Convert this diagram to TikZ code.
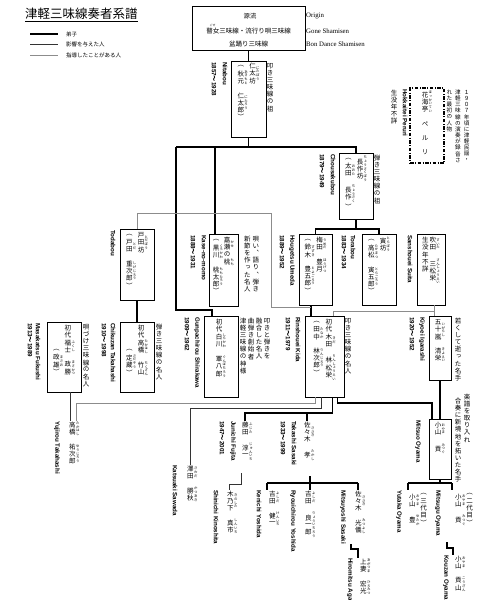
\documentclass[tikz,border=0pt]{standalone}
\usepackage{fontspec}
\setmainfont{Liberation Serif}
\newfontfamily\jpv[RawFeature=+vert]{Noto Sans CJK JP}
\newfontfamily\jph{Noto Sans CJK JP}
\newfontfamily\lsans{Liberation Sans}
\newcommand\jps{\fontsize{6.5}{6.5}\selectfont}
\newcommand\rubyf{\fontsize{3.4}{3.4}\selectfont}
\newcommand\romf{\lsans\bfseries\fontsize{6.2}{6.2}\selectfont}
\def\vtend{VTEND}
\newcommand\vtch[1]{\hbox to 1em{\hss\vbox to 1.1em{\vss\hbox{#1}\vss}\hss}}
\def\vtloop#1{\ifx#1\vtend\else\vtch{#1}\expandafter\vtloop\fi}
\newcommand\vt[1]{\vtloop#1\vtend}
\newcommand\col[1]{\vtop{\offinterlineskip\kern0pt #1}}
\newcommand\rb[2]{\hbox{$\vcenter{\offinterlineskip\vt{#1}}\kern0.3pt\vcenter{\offinterlineskip\rubyf\vt{#2}}$}}
\newcommand\tl{{\jph ～}}
\tikzset{
  bx/.style={draw, line width=0.8pt, inner sep=0pt},
  perubox/.style={draw, line width=1.1pt, inner sep=0pt, dash pattern=on 3.5pt off 1.5pt on 1pt off 1.5pt},
  lk/.style={line width=1.7pt},
  lm/.style={line width=0.9pt, black!80},
  lt/.style={line width=0.7pt, black!45},
  rom/.style={rotate=-90, anchor=west, inner sep=0pt, font=\romf},
  jt/.style={anchor=north, inner sep=0pt, font=\jpv\jps},
  jn/.style={anchor=north west, inner sep=0pt, font=\jpv\jps},
  lg/.style={anchor=west, inner sep=0pt, font=\jph\fontsize{5.5}{5.5}\selectfont},
  en/.style={anchor=west, inner sep=0pt, font=\fontsize{6.8}{6.8}\selectfont},
}
\begin{document}
\begin{tikzpicture}[x=1pt,y=-1pt]
\useasboundingbox (0,0) rectangle (480,600);
% title and legend
\node[anchor=west, inner sep=0pt, font=\jph\fontsize{12.5}{12.5}\selectfont] (title) at (25,14) {津軽三味線奏者系譜};
\draw[line width=0.6pt] ([yshift=-1pt]title.south west) -- ([yshift=-1pt]title.south east);
\coordinate (l1a) at (30,34); \coordinate (l1b) at (58,34);
\coordinate (l2a) at (30,44.5); \coordinate (l2b) at (58,44.5);
\coordinate (l3a) at (30,55); \coordinate (l3b) at (58,55);
\draw[lk] (l1a) -- (l1b);
\draw[lm] (l2a) -- (l2b);
\draw[lt] (l3a) -- (l3b);
\node[lg] (lg1) at (66,34) {弟子};
\node[lg] (lg2) at (66,44.5) {影響を与えた人};
\node[lg] (lg3) at (66,55) {指導したことがある人};
% top box
\node[bx, line width=1pt, minimum width=113pt, minimum height=44pt] (top) at (248.5,28) {};
\node[inner sep=0pt, font=\jph\fontsize{6.3}{6.3}\selectfont] (topA) at (250,16) {源流};
\node[inner sep=0pt, font=\jph\fontsize{6.5}{6.5}\selectfont] (topB) at (248.5,31) {瞽女三味線・流行り唄三味線};
\node[inner sep=0pt, font=\jph\fontsize{2.8}{2.8}\selectfont] (topR) at (212.5,25.5) {ごぜ};
\node[inner sep=0pt, font=\jph\fontsize{6.5}{6.5}\selectfont] (topC) at (248.5,44) {盆踊り三味線};
\node[en] (en1) at (306,16) {Origin};
\node[en] (en2) at (306,31) {Gone Shamisen};
\node[en] (en3) at (306,44) {Bon Dance Shamisen};
% Nitabou
\node[bx, minimum width=35pt, minimum height=76pt] (nita) at (248.5,99) {};
\node[jt] (nitaT) at ([yshift=-2pt]nita.north) {\col{\vt{︵}\rb{秋元}{あきもと}\vt{　}\rb{仁太郎}{にたろう}\vt{︶}}\kern1.5pt\col{\rb{仁太坊}{にたぼう}}};
\node[jt] (nitaD) at (270,62) {\col{\vt{叩き三味線の祖}}};
\node[rom] (nitaR) at (225,62) {Nitabou};
\node[rom] (nitaY) at (214,62) {1857\tl 1928};
% Hokkaitei Peruri
\node[perubox, minimum width=34pt, minimum height=75pt] (peru) at (427,125.5) {};
\node[jt] (peruT) at ([yshift=-3pt]peru.north) {\col{\rb{花海亭}{ほっかいてい}\vt{　ペ　ル　リ}}};
\node[rom] (peruR) at (405,89) {Hokkaitei Peruri};
\node[jt] (peruY) at (394,89) {\col{\vt{生没年不詳}}};
\node[jt, font=\jpv\fontsize{5.6}{5.6}\selectfont] (peruD) at (458,89) {\col{\vt{れた最初の人物}}\kern3pt\col{\vt{津軽三味線の演奏が録音さ}}\kern3pt\col{\vt{１９０７年頃に津軽民謡・}}};
% Chousakubou
\node[bx, minimum width=34pt, minimum height=66pt] (chou) at (356,186) {};
\node[jt] (chouT) at ([yshift=-3pt]chou.north) {\col{\vt{︵}\rb{太田}{おおた}\vt{　}\rb{長作}{ちょうさく}\vt{︶}}\kern1.5pt\col{\rb{長作坊}{ちょうさくぼう}}};
\node[jt] (chouD) at (377,154) {\col{\vt{弾き三味線の祖}}};
\node[rom] (chouR) at (333,154) {Chousakubou};
\node[rom] (chouY) at (322,154) {1879\tl 1949};
% Kase-no-momo
\node[bx, minimum width=29pt, minimum height=72pt] (kaze) at (223.5,270) {};
\node[jt] (kazeT) at ([yshift=-3pt]kaze.north) {\col{\vt{︵}\rb{黒川}{くろかわ}\vt{　}\rb{桃太郎}{ももたろう}\vt{︶}}\kern0.8pt\col{\rb{嘉瀬}{かせ}\vt{の}\rb{桃}{もも}}};
\node[jt] (kazeD) at (251.5,235) {\col{\vt{新節を作った名人}}\kern2pt\col{\vt{唄い︑語り︑弾き}}};
\node[rom] (kazeR) at (204,235) {Kase-no-momo};
\node[rom] (kazeY) at (193,235) {1888\tl 1931};
% Todabou
\node[bx, minimum width=34pt, minimum height=71pt] (toda) at (137,264.5) {};
\node[jt] (todaT) at ([yshift=-3pt]toda.north) {\col{\vt{︵}\rb{戸田}{とだ}\vt{　}\rb{重次郎}{しげじろう}\vt{︶}}\kern1.5pt\col{\rb{戸田坊}{とだぼう}}};
\node[rom] (todaR) at (113,230) {Todabou};
% Umeda
\node[bx, minimum width=33pt, minimum height=71pt] (ume) at (315.5,269.5) {};
\node[jt] (umeT) at ([yshift=-3pt]ume.north) {\col{\vt{︵}\rb{鈴木}{すずき}\vt{　}\rb{豊五郎}{とよごろう}\vt{︶}}\kern1.5pt\col{\rb{梅田}{うめだ}\vt{　}\rb{豊月}{ほうげつ}}};
\node[rom] (umeR) at (292,235) {Hougetsu Umeda};
\node[rom] (umeY) at (282,235) {1889\tl 1952};
% Torabou
\node[bx, minimum width=34pt, minimum height=71pt] (tora) at (379,269.5) {};
\node[jt] (toraT) at ([yshift=-3pt]tora.north) {\col{\vt{︵}\rb{高松}{たかまつ}\vt{　}\rb{寅五郎}{とらごろう}\vt{︶}}\kern1.5pt\col{\rb{寅坊}{とらぼう}}};
\node[rom] (toraR) at (353,235) {Torabou};
\node[rom] (toraY) at (344,235) {1883\tl 1934};
% Suita
\node[bx, minimum width=28pt, minimum height=71pt] (sui) at (431,269.5) {};
\node[jt] (suiT) at ([yshift=-3pt]sui.north) {\col{\vt{生没年不詳}}\kern1pt\col{\rb{吹田}{すいた}\vt{　}\rb{三松栄}{さんしょうえい}}};
\node[rom] (suiR) at (410,235) {Sanshouei Suita};
% Shirakawa
\node[bx, minimum width=34pt, minimum height=81pt] (shira) at (221,356.5) {};
\node[jt] (shiraT) at ([yshift=-3pt]shira.north) {\col{\vt{初代}\rb{白川}{しらかわ}\vt{　}\rb{軍八郎}{ぐんぱちろう}}};
\node[jt] (shiraD) at (255,317) {\col{\vt{津軽三味線の神様}}\kern1.5pt\col{\vt{曲弾き創始者}}\kern1.5pt\col{\vt{融合した名人}}\kern1.5pt\col{\vt{叩きと弾きを}}};
\node[rom] (shiraR) at (197,317) {Gunpachirou Shirakawa};
\node[rom] (shiraY) at (187,317) {1909\tl 1962};
% Chikuzan
\node[bx, minimum width=34pt, minimum height=70pt] (chik) at (137,357) {};
\node[jt] (chikT) at ([yshift=-3pt]chik.north) {\col{\kern22pt\vt{︵}\rb{定蔵}{さだぞう}\vt{︶}}\kern1.5pt\col{\vt{初代}\rb{高橋}{たかはし}\vt{　}\rb{竹山}{ちくざん}}};
\node[jt] (chikD) at (159,323) {\col{\vt{弾き三味線の名人}}};
\node[rom] (chikR) at (113,323) {Chikuzan Takahashi};
\node[rom] (chikY) at (104,323) {1910\tl 1998};
% Fukushi
\node[bx, minimum width=34pt, minimum height=70pt] (fuku) at (64,357) {};
\node[jt] (fukuT) at ([yshift=-3pt]fuku.north) {\col{\kern22pt\vt{︵}\rb{政雄}{まさお}\vt{︶}}\kern1.5pt\col{\vt{初代}\rb{福士}{ふくし}\vt{　}\rb{政勝}{まさかつ}}};
\node[jt] (fukuD) at (86,323) {\col{\vt{唄づけ三味線の名人}}};
\node[rom] (fukuR) at (38,323) {Masakatsu Fukushi};
\node[rom] (fukuY) at (30,323) {1913\tl 1989};
% Kida
\node[bx, minimum width=39pt, minimum height=81pt] (kida) at (324.5,356.5) {};
\node[jt] (kidaT) at ([yshift=-3pt]kida.north) {\col{\vt{︵}\rb{田中}{たなか}\vt{　}\rb{林次郎}{りんじろう}\vt{︶}}\kern2pt\col{\vt{初代}\rb{木田}{きだ}\vt{　}\rb{林松栄}{りんしょうえい}}};
\node[jt] (kidaD) at (348,317) {\col{\vt{叩き三味線の名人}}};
\node[rom] (kidaR) at (298,317) {Rinshouei Kida};
\node[rom] (kidaY) at (288,317) {1911\tl 1979};
% Igarashi
\node[bx, minimum width=22pt, minimum height=64pt] (iga) at (440,348) {};
\node[jt] (igaT) at ([yshift=-3pt]iga.north) {\col{\rb{五十嵐}{いがらし}\vt{　}\rb{清栄}{きよえい}}};
\node[jt] (igaD) at (458,317) {\col{\vt{若くして逝った名手}}};
\node[rom] (igaR) at (422,317) {Kiyoei Igarashi};
\node[rom] (igaY) at (412,317) {1920\tl 1952};
% Oyama
\node[bx, minimum width=22pt, minimum height=60pt] (oya) at (440,449) {};
\node[jt] (oyaT) at ([yshift=-3pt]oya.north) {\col{\rb{小山}{おやま}\vt{　}\rb{貢}{みつぐ}}};
\node[jt] (oyaD1) at (467,393) {\col{\vt{楽譜を取り入れ}}};
\node[jt] (oyaD2) at (458,397) {\col{\vt{合奏に新境地を拓いた名手}}};
\node[rom] (oyaR) at (418,420) {Mitsuo Oyama};
% lower names
\node[jn] (yuji) at (69,421) {\col{\rb{高橋}{たかはし}\vt{　}\rb{祐次郎}{ゆうじろう}}};
\node[rom] (yujiR) at (57,421) {Yujirou Takahashi};
\node[jn] (sawa) at (187,465) {\col{\rb{澤田}{さわだ}\vt{　}\rb{勝秋}{かつあき}}};
\node[rom] (sawaR) at (175,465) {Katsuaki Sawada};
\node[jn] (kino) at (227,490) {\col{\rb{木乃下}{きのした}\vt{　}\rb{真市}{しんいち}}};
\node[rom] (kinoR) at (216,490) {Shinichi Kinoshita};
\node[jn] (fuji) at (242,421) {\col{\rb{藤田}{ふじた}\vt{　}\rb{淳一}{じゅんいち}}};
\node[rom] (fujiR) at (233,421) {Junichi Fujita};
\node[rom] (fujiY) at (222,421) {1947\tl 2001};
\node[jn] (sasa) at (304,421) {\col{\rb{佐々木}{ささき}\vt{　}\rb{孝}{たかし}}};
\node[rom] (sasaR) at (294,421) {Takashi Sasaki};
\node[rom] (sasaY) at (283,421) {1933\tl 1999};
\node[jn] (ken) at (269,490) {\col{\rb{吉田}{よしだ}\vt{　}\rb{健一}{けんいち}}};
\node[rom] (kenR) at (259,490) {Kenichi Yoshida};
\node[jn] (ryo) at (305,490) {\col{\rb{吉田}{よしだ}\vt{　}\rb{良一郎}{りょういちろう}}};
\node[rom] (ryoR) at (293,490) {Ryouichirou Yoshida};
\node[jn] (mitsu) at (355,490) {\col{\rb{佐々木}{ささき}\vt{　}\rb{光儀}{みつよし}}};
\node[rom] (mitsuR) at (343,490) {Mitsuyoshi Sasaki};
\node[jn] (aga) at (360,558) {\col{\rb{上妻}{あがつま}\vt{　}\rb{宏光}{ひろみつ}}};
\node[rom] (agaR) at (350,558) {Hiromitsu Agatsuma};
\node[jn] (yuta) at (409,490) {\col{\kern3pt\rb{小山}{おやま}\vt{　}\rb{豊}{ゆたか}}\kern1pt\col{\vt{︵三代目︶}}};
\node[rom] (yutaR) at (399,490) {Yutaka Oyama};
\node[jn] (mitg) at (455,490) {\col{\kern3pt\rb{小山}{おやま}\vt{　}\rb{貢}{みつぐ}}\kern1pt\col{\vt{︵二代目︶}}};
\node[rom] (mitgR) at (438,490) {Mitsugu Oyama};
\node[jn] (kou) at (455,555) {\col{\rb{小山}{おやま}\vt{　}\rb{貢山}{こうざん}}};
\node[rom] (kouR) at (446,555) {Kouzan Oyama};
% connectors
\draw[lk] (top.south) -- (nita.north);
\coordinate (j1) at (248.5,147);
\draw[lk] (nita.south) -- (j1);
\coordinate (h1L) at (176,147);
\draw[lk] (h1L) -- (j1 -| chou.north) -- (chou.north);
\coordinate (kz) at (215,234);
\draw[lk] (kz |- j1) -- (kz);
\coordinate (sk) at (212,316);
\draw[lk] (h1L) |- ([yshift=6pt]sk) -- (sk);
\coordinate (j2) at (356,229);
\draw[lk] (chou.south) -- (j2);
\draw[lk] (ume.north) |- (j2) -| (tora.north);
\draw[lk] (toda.south) -- (chik.north);
\coordinate (g1) at (271,213);
\coordinate (g2) at (271,307);
\coordinate (kin) at (311,316);
\draw[lk] (ume.south -| kin) -- (kin);
\draw[lt] (toda.north) |- (g1) -- (g2) -- (g2 -| kin);
\coordinate (s1) at (434,311);
\coordinate (kin2) at (333,316);
\draw[lt] (sui.south -| s1) -- (s1);
\draw[lt] (kin2) |- (s1) -- (s1 |- iga.north);
\draw[lk] (iga.south) -- (oya.north);
\coordinate (o1) at (432,403);
\draw[lk] ([xshift=33pt]kida.south west) |- (o1) -- (o1 |- oya.north);
\coordinate (fs1) at (245,413);
\coordinate (fs2) at (307,413);
\draw[lk] ([xshift=28pt]kida.south west) |- (fs1) -- (fs1 |- fuji.north);
\draw[lk] (fs2) -- (fs2 |- sasa.north);
\coordinate (sw1) at (190,408);
\draw[lm] ([xshift=17pt]kida.south west) |- (sw1) -- (sw1 |- sawa.north);
\coordinate (yj1) at (76,403);
\draw[lt] ([xshift=11pt]kida.south west) |- (yj1) -- (yj1 |- yuji.north);
\draw[lm] ([xshift=6pt]fuku.south) -- ([xshift=6pt]fuku.south |- yuji.north);
\coordinate (k1) at (241,473);
\coordinate (k2) at (229,484);
\draw[lm] (k1) |- (k2) -- (k2 |- kino.north);
\coordinate (sbM) at (310,483);
\coordinate (sbL) at (267,483);
\coordinate (sbR) at (358,483);
\coordinate (sbT) at (310,476);
\draw[lk] (sbT) -- (sbM);
\draw[lk] (sbL) -- (sbR);
\draw[lk] (sbL) -- (sbL |- ken.north);
\draw[lk] (sbM) -- (sbM |- ryo.north);
\draw[lk] (sbR) -- (sbR |- mitsu.north);
\coordinate (ag1) at (351,544);
\coordinate (ag2) at (358,549);
\draw[lk] (ag1) |- (ag2) -- (ag2 |- aga.north);
\coordinate (ob) at (440,483);
\coordinate (obL) at (408,483);
\coordinate (obR) at (452,483);
\draw[lk] (oya.south) -- (ob);
\draw[lk] (obL) -- (obR);
\draw[lk] (obL) -- (obL |- yuta.north);
\draw[lk] (obR) -- (obR |- mitg.north);
\coordinate (ko1) at (447,542);
\coordinate (ko2) at (453,548);
\draw[lk] (ko1) |- (ko2) -- (ko2 |- kou.north);
\end{tikzpicture}
\end{document}
